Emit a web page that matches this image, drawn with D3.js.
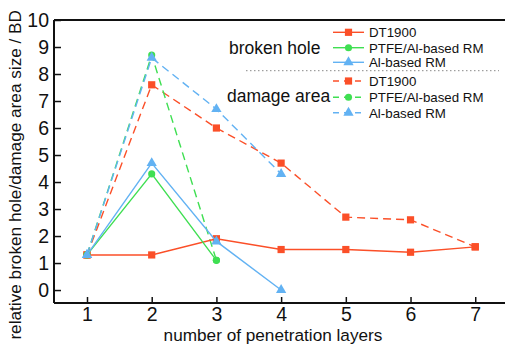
<!DOCTYPE html>
<html>
<head>
<meta charset="utf-8">
<script src="https://cdn.jsdelivr.net/npm/d3@7"></script>
<style>
  body { margin: 0; background: #fff; }
  svg { display: block; font-family: "Liberation Sans", Arial, sans-serif; }
</style>
</head>
<body>
<svg id="chart"></svg>
<script>
const layers = [1, 2, 3, 4, 5, 6, 7];
const yTicks = [0, 1, 2, 3, 4, 5, 6, 7, 8, 9, 10];

// broken hole (solid)
const holeDT1900 = [1.3, 1.3, 1.9, 1.5, 1.5, 1.4, 1.6];
const holePTFE = [1.3, 4.3, 1.1];
const holeAl = [1.3, 4.7, 1.8, 0.0];

// damage area (dashed)
const areaDT1900 = [1.3, 7.6, 6.0, 4.7, 2.7, 2.6, 1.6];
const areaPTFE = [1.3, 8.7, 1.1];
const areaAl = [1.3, 8.6, 6.7, 4.3];

const seriesNames = ["DT1900", "PTFE/Al-based RM", "Al-based RM"];
const groupNames = ["broken hole", "damage area"];

const width = 505, height = 344;
const margin = { top: 20, right: 0, bottom: 41, left: 54 };

const colors = { DT1900: "#fb4f28", "PTFE/Al-based RM": "#3fdf52", "Al-based RM": "#62b2f3" };
const shapes = { DT1900: d3.symbolSquare, "PTFE/Al-based RM": d3.symbolCircle, "Al-based RM": d3.symbolTriangle };
const sizes = { DT1900: 52, "PTFE/Al-based RM": 40, "Al-based RM": 46 };

const svg = d3.select("#chart")
  .attr("width", width)
  .attr("height", height);

const xScale = d3.scaleLinear()
  .domain([0.49, 7.46])
  .range([margin.left, width - margin.right]);

const yScale = d3.scaleLinear()
  .domain([-0.48, 10])
  .range([height - margin.bottom, margin.top]);

// axes, ticks pointing inward
const xAxis = d3.axisBottom(xScale).tickValues(layers).tickSize(-6).tickPadding(4).tickFormat(d3.format("d"));
const yAxis = d3.axisLeft(yScale).tickValues(yTicks).tickSize(-7).tickPadding(5);

const xAxisGroup = svg.append("g")
  .attr("transform", `translate(0,${height - margin.bottom})`)
  .call(xAxis);

const yAxisGroup = svg.append("g")
  .attr("transform", `translate(${margin.left},0)`)
  .call(yAxis);

[xAxisGroup, yAxisGroup].forEach(g => {
  g.select(".domain").attr("stroke", "#111").attr("stroke-width", 2);
  g.selectAll(".tick line").attr("stroke", "#111").attr("stroke-width", 1.5);
  g.selectAll("text")
    .attr("fill", "#111")
    .style("font-size", "19.5px");
});
xAxisGroup.select(".domain").attr("d", `M${margin.left},0H${width}`);
yAxisGroup.select(".domain").attr("d", `M0,${height - margin.bottom}V${margin.top}`);

// top frame line
svg.append("line")
  .attr("x1", margin.left).attr("x2", width)
  .attr("y1", margin.top).attr("y2", margin.top)
  .attr("stroke", "#111").attr("stroke-width", 2);

// axis titles
svg.append("text")
  .attr("x", 273).attr("y", 340.5)
  .attr("text-anchor", "middle")
  .style("font-size", "17.2px")
  .attr("fill", "#111")
  .text("number of penetration layers");

svg.append("text")
  .attr("transform", "translate(21,10) rotate(-90)")
  .attr("text-anchor", "end")
  .style("font-size", "17.2px")
  .attr("fill", "#111")
  .text("relative broken hole/damage area size / BD");

const line = d3.line()
  .x((d, i) => xScale(layers[i]))
  .y(d => yScale(d));

const series = [
  { name: "DT1900", values: areaDT1900, dashed: true },
  { name: "PTFE/Al-based RM", values: areaPTFE, dashed: true },
  { name: "Al-based RM", values: areaAl, dashed: true },
  { name: "DT1900", values: holeDT1900, dashed: false },
  { name: "PTFE/Al-based RM", values: holePTFE, dashed: false },
  { name: "Al-based RM", values: holeAl, dashed: false }
];

series.forEach(s => {
  svg.append("path")
    .datum(s.values)
    .attr("d", line)
    .attr("fill", "none")
    .attr("stroke", colors[s.name])
    .attr("stroke-width", 1.4)
    .attr("stroke-dasharray", s.dashed ? "8,5" : null);

  svg.selectAll(null)
    .data(s.values)
    .enter()
    .append("path")
    .attr("d", d3.symbol().type(shapes[s.name]).size(sizes[s.name]))
    .attr("transform", (d, i) => `translate(${xScale(layers[i])},${yScale(d)})`)
    .attr("fill", colors[s.name]);
});

// legend
const legendRows = [32.3, 47.7, 62.3, 81, 97.3, 112.7];
const legend = svg.append("g");

groupNames.forEach((group, gi) => {
  legend.append("text")
    .attr("x", gi === 0 ? 229 : 227)
    .attr("y", gi === 0 ? 53.5 : 101.8)
    .style("font-size", "17.5px")
    .attr("fill", "#111")
    .text(group);

  seriesNames.forEach((name, si) => {
    const y = legendRows[gi * 3 + si];
    legend.append("line")
      .attr("x1", 333).attr("x2", 364)
      .attr("y1", y).attr("y2", y)
      .attr("stroke", colors[name])
      .attr("stroke-width", 1.4)
      .attr("stroke-dasharray", gi === 1 ? "6,5" : null);
    legend.append("path")
      .attr("d", d3.symbol().type(shapes[name]).size(sizes[name]))
      .attr("transform", `translate(348.5,${y})`)
      .attr("fill", colors[name]);
    legend.append("text")
      .attr("x", 369)
      .attr("y", y + 4.8)
      .style("font-size", "13.3px")
      .attr("fill", "#111")
      .text(name);
  });
});

legend.append("line")
  .attr("x1", 246).attr("x2", 499)
  .attr("y1", 70.7).attr("y2", 70.7)
  .attr("stroke", "#888")
  .attr("stroke-width", 1)
  .attr("stroke-dasharray", "1.5,2.5");
</script>
</body>
</html>
